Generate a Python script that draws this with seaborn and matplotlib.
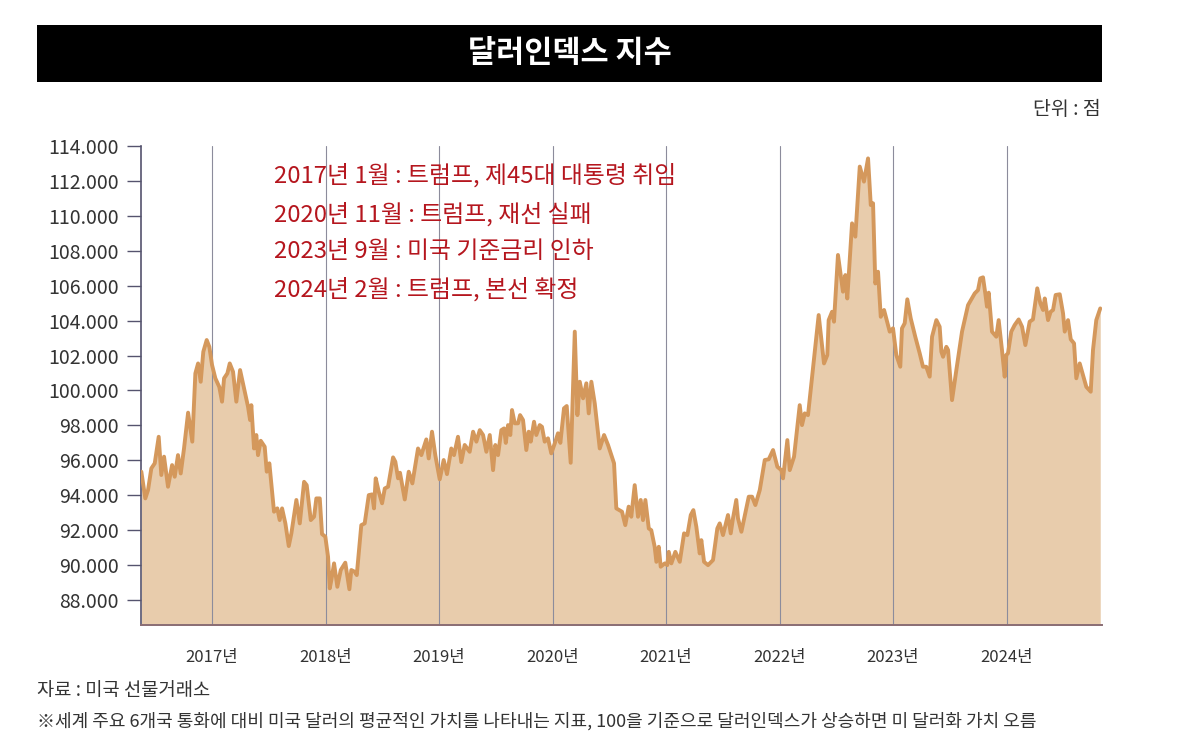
import matplotlib
matplotlib.use("Agg")
import matplotlib.pyplot as plt
from matplotlib.patches import Rectangle
import seaborn as sns
import numpy as np
import pandas as pd

# ---------------- data ----------------
title = "달러인덱스 지수"
unit_label = "단위 : 점"
source_label = "자료 : 미국 선물거래소"
note_label = ("※세계 주요 6개국 통화에 대비 미국 달러의 평균적인 가치를 나타내는 지표, "
              "100을 기준으로 달러인덱스가 상승하면 미 달러화 가치 오름")
events = [
    "2017년 1월 : 트럼프, 제45대 대통령 취임",
    "2020년 11월 : 트럼프, 재선 실패",
    "2023년 9월 : 미국 기준금리 인하",
    "2024년 2월 : 트럼프, 본선 확정",
]
years = [2017, 2018, 2019, 2020, 2021, 2022, 2023, 2024]
year_labels = [f"{y}년" for y in years]
y_ticks = [88, 90, 92, 94, 96, 98, 100, 102, 104, 106, 108, 110, 112, 114]

# time as decimal year
t = [
    2016.377, 2016.412, 2016.436, 2016.465, 2016.495, 2016.530, 2016.553, 2016.577,
    2016.612, 2016.648, 2016.671, 2016.700, 2016.724, 2016.753, 2016.789, 2016.826,
    2016.853, 2016.877, 2016.900, 2016.923, 2016.953, 2016.976, 2017.000, 2017.029,
    2017.064, 2017.088, 2017.106, 2017.135, 2017.156, 2017.185, 2017.214, 2017.247,
    2017.282, 2017.317, 2017.335, 2017.346, 2017.370, 2017.390, 2017.405, 2017.429,
    2017.464, 2017.482, 2017.505, 2017.546, 2017.575, 2017.596, 2017.617, 2017.646,
    2017.676, 2017.699, 2017.743, 2017.773, 2017.811, 2017.834, 2017.870, 2017.899,
    2017.919, 2017.949, 2017.969, 2017.998, 2018.022, 2018.037, 2018.051, 2018.075,
    2018.104, 2018.134, 2018.174, 2018.210, 2018.227, 2018.257, 2018.275, 2018.315,
    2018.345, 2018.381, 2018.410, 2018.427, 2018.442, 2018.469, 2018.498, 2018.522,
    2018.551, 2018.595, 2018.615, 2018.639, 2018.656, 2018.698, 2018.733, 2018.765,
    2018.815, 2018.844, 2018.888, 2018.909, 2018.938, 2018.967, 2019.006, 2019.041,
    2019.070, 2019.108, 2019.132, 2019.167, 2019.196, 2019.226, 2019.270, 2019.300,
    2019.329, 2019.359, 2019.388, 2019.417, 2019.447, 2019.476, 2019.496, 2019.520,
    2019.549, 2019.573, 2019.588, 2019.608, 2019.628, 2019.643, 2019.667, 2019.696,
    2019.714, 2019.740, 2019.769, 2019.790, 2019.808, 2019.837, 2019.857, 2019.887,
    2019.907, 2019.931, 2019.960, 2019.989, 2020.025, 2020.048, 2020.069, 2020.101,
    2020.125, 2020.160, 2020.196, 2020.219, 2020.240, 2020.269, 2020.298, 2020.319,
    2020.342, 2020.372, 2020.416, 2020.454, 2020.489, 2020.542, 2020.562, 2020.612,
    2020.641, 2020.671, 2020.694, 2020.724, 2020.753, 2020.777, 2020.797, 2020.818,
    2020.848, 2020.870, 2020.900, 2020.915, 2020.936, 2020.953, 2020.989, 2021.011,
    2021.024, 2021.047, 2021.082, 2021.121, 2021.159, 2021.188, 2021.218, 2021.241,
    2021.267, 2021.297, 2021.311, 2021.335, 2021.370, 2021.414, 2021.452, 2021.473,
    2021.502, 2021.546, 2021.570, 2021.590, 2021.619, 2021.634, 2021.664, 2021.729,
    2021.758, 2021.787, 2021.826, 2021.870, 2021.905, 2021.943, 2021.981, 2022.016,
    2022.031, 2022.069, 2022.090, 2022.128, 2022.178, 2022.198, 2022.222, 2022.251,
    2022.345, 2022.392, 2022.421, 2022.433, 2022.463, 2022.480, 2022.515, 2022.559,
    2022.580, 2022.597, 2022.639, 2022.668, 2022.707, 2022.744, 2022.780, 2022.804,
    2022.824, 2022.844, 2022.868, 2022.892, 2022.921, 2022.971, 2023.000, 2023.029,
    2023.064, 2023.079, 2023.103, 2023.126, 2023.156, 2023.196, 2023.235, 2023.264,
    2023.293, 2023.323, 2023.344, 2023.382, 2023.411, 2023.426, 2023.441, 2023.470,
    2023.485, 2023.520, 2023.558, 2023.608, 2023.661, 2023.720, 2023.749, 2023.769,
    2023.793, 2023.813, 2023.828, 2023.843, 2023.872, 2023.910, 2023.931, 2023.960,
    2023.984, 2023.998, 2024.013, 2024.042, 2024.072, 2024.107, 2024.137, 2024.166,
    2024.204, 2024.233, 2024.271, 2024.298, 2024.322, 2024.337, 2024.366, 2024.389,
    2024.410, 2024.433, 2024.469, 2024.498, 2024.513, 2024.542, 2024.566, 2024.595,
    2024.615, 2024.645, 2024.674, 2024.703, 2024.742, 2024.762, 2024.791, 2024.826,
]
dxy = [
    95.35, 93.82, 94.30, 95.54, 95.83, 97.35, 95.16, 96.21,
    94.49, 95.73, 95.06, 96.30, 95.25, 96.68, 98.73, 97.07,
    100.98, 101.55, 100.50, 102.22, 102.89, 102.50, 101.46, 100.70,
    100.20, 99.36, 100.70, 100.98, 101.55, 101.07, 99.36, 101.17,
    100.12, 99.07, 98.31, 99.16, 96.68, 97.45, 96.30, 97.12,
    96.78, 95.35, 95.83, 93.06, 93.25, 92.58, 93.25, 92.39,
    91.09, 91.82, 93.73, 92.39, 94.77, 94.58, 92.58, 92.77,
    93.82, 93.82, 91.78, 91.63, 90.48, 88.67, 89.14, 90.10,
    88.76, 89.72, 90.14, 88.62, 89.72, 89.62, 89.43, 92.29,
    92.39, 94.01, 94.05, 93.25, 94.97, 94.20, 93.54, 94.39,
    94.49, 96.17, 95.92, 94.97, 95.29, 93.76, 95.35, 94.68,
    96.68, 96.30, 97.20, 96.11, 97.64, 96.30, 94.91, 96.02,
    95.21, 96.68, 96.30, 97.35, 95.90, 96.88, 96.49, 97.64,
    97.07, 97.73, 97.45, 96.49, 97.45, 95.44, 96.88, 96.30,
    97.73, 97.83, 97.00, 98.02, 97.45, 98.88, 98.12, 98.12,
    98.59, 98.31, 96.59, 97.64, 97.07, 98.21, 97.45, 98.02,
    97.92, 97.07, 97.26, 96.40, 97.07, 97.55, 97.00, 98.98,
    99.11, 95.86, 103.37, 98.59, 100.50, 99.55, 100.41, 98.69,
    100.50, 99.26, 96.68, 97.45, 96.88, 95.83, 93.25, 93.06,
    92.29, 93.35, 92.77, 94.58, 92.77, 93.73, 92.58, 93.73,
    92.10, 92.00, 91.05, 90.19, 91.05, 89.91, 90.10, 90.00,
    90.76, 90.10, 90.76, 90.19, 91.82, 91.72, 92.87, 93.15,
    92.20, 90.67, 91.43, 90.19, 90.00, 90.29, 92.10, 92.39,
    91.72, 92.87, 91.82, 92.68, 93.73, 92.68, 91.91, 93.92,
    93.92, 93.44, 94.30, 96.02, 96.06, 96.59, 95.63, 95.44,
    94.97, 97.16, 95.44, 96.21, 99.16, 98.02, 98.69, 98.59,
    104.32, 101.55, 102.03, 104.03, 104.51, 103.94, 107.76, 105.66,
    106.61, 105.27, 109.57, 108.81, 112.82, 111.96, 113.29, 110.62,
    110.72, 106.13, 106.80, 104.22, 104.61, 103.37, 103.56, 102.03,
    101.36, 103.56, 103.85, 105.22, 104.13, 103.08, 102.13, 101.36,
    101.36, 100.79, 103.08, 104.03, 103.65, 102.22, 101.93, 102.50,
    102.32, 99.45, 101.17, 103.37, 104.89, 105.56, 105.75, 106.42,
    106.48, 105.56, 104.80, 105.60, 103.37, 103.08, 104.03, 102.32,
    100.79, 102.03, 102.13, 103.37, 103.75, 104.07, 103.65, 102.60,
    103.94, 104.07, 105.85, 104.99, 104.61, 105.27, 104.03, 104.51,
    104.61, 105.47, 105.51, 104.42, 103.37, 104.03, 102.93, 102.70,
    100.70, 101.55, 100.88, 100.21, 99.93, 102.32, 104.03, 104.70,
]

df = pd.DataFrame({"t": t, "dxy": dxy})

# ---------------- style ----------------
sns.set_theme(style="white")
FONT = ["Noto Sans CJK KR", "DejaVu Sans"]
plt.rcParams["font.family"] = FONT

LINE_C = "#D4985C"
FILL_C = "#E8CCAC"
RED = "#B5161E"
TXT = "#333333"

fig = plt.figure(figsize=(12, 7.48), dpi=100)
fig.patch.set_facecolor("white")
ax = fig.add_axes([0.1175, 0.1644, 0.8008, 0.6404])

ax.fill_between(df["t"], df["dxy"], 80, color=FILL_C, linewidth=0, zorder=1)
for y in years:
    ax.axvline(y, color="#8c8c9c", linewidth=0.8, zorder=2)
sns.lineplot(data=df, x="t", y="dxy", ax=ax, color=LINE_C, linewidth=2.8,
             zorder=3, estimator=None, sort=False)

ax.set_xlim(2016.374, 2024.841)
ax.set_ylim(86.57, 114)
ax.set_xlabel("")
ax.set_ylabel("")

ax.set_yticks(y_ticks)
ax.set_yticklabels([f"{v:.3f}" for v in y_ticks], fontsize=14, color=TXT)
ax.set_xticks(years)
ax.set_xticklabels(year_labels, fontsize=12, color=TXT)
ax.tick_params(axis="y", direction="out", length=10, width=1.0,
               color="#55536e", pad=6, left=True)
ax.tick_params(axis="x", length=0, pad=17)

for s in ["top", "right"]:
    ax.spines[s].set_visible(False)
ax.spines["left"].set_color("#55536e")
ax.spines["left"].set_linewidth(1.2)
ax.spines["bottom"].set_color("#8a6d74")
ax.spines["bottom"].set_linewidth(1.4)
ax.grid(False)

# title bar
fig.patches.append(Rectangle((0.0308, 0.8904), 0.8875, 0.0762,
                             transform=fig.transFigure, facecolor="black",
                             edgecolor="none", zorder=0))
fig.text(0.475, 0.9285, title, color="white", fontsize=22, fontweight="bold",
         ha="center", va="center", family=FONT)
fig.text(0.9175, 0.853, unit_label, color=TXT, fontsize=14,
         ha="right", va="center", family=FONT)

# events
for i, (ev, yp) in enumerate(zip(events, [0.765, 0.714, 0.664, 0.613])):
    fig.text(0.2283, yp, ev, color=RED, fontsize=17.2, ha="left", va="center",
             family=FONT)

# footer
fig.text(0.031, 0.077, source_label, color=TXT, fontsize=13.5, ha="left",
         va="center", family=FONT)
fig.text(0.031, 0.036, note_label, color=TXT, fontsize=13, ha="left",
         va="center", family=FONT)

fig.savefig("out.png", dpi=100, facecolor="white")
